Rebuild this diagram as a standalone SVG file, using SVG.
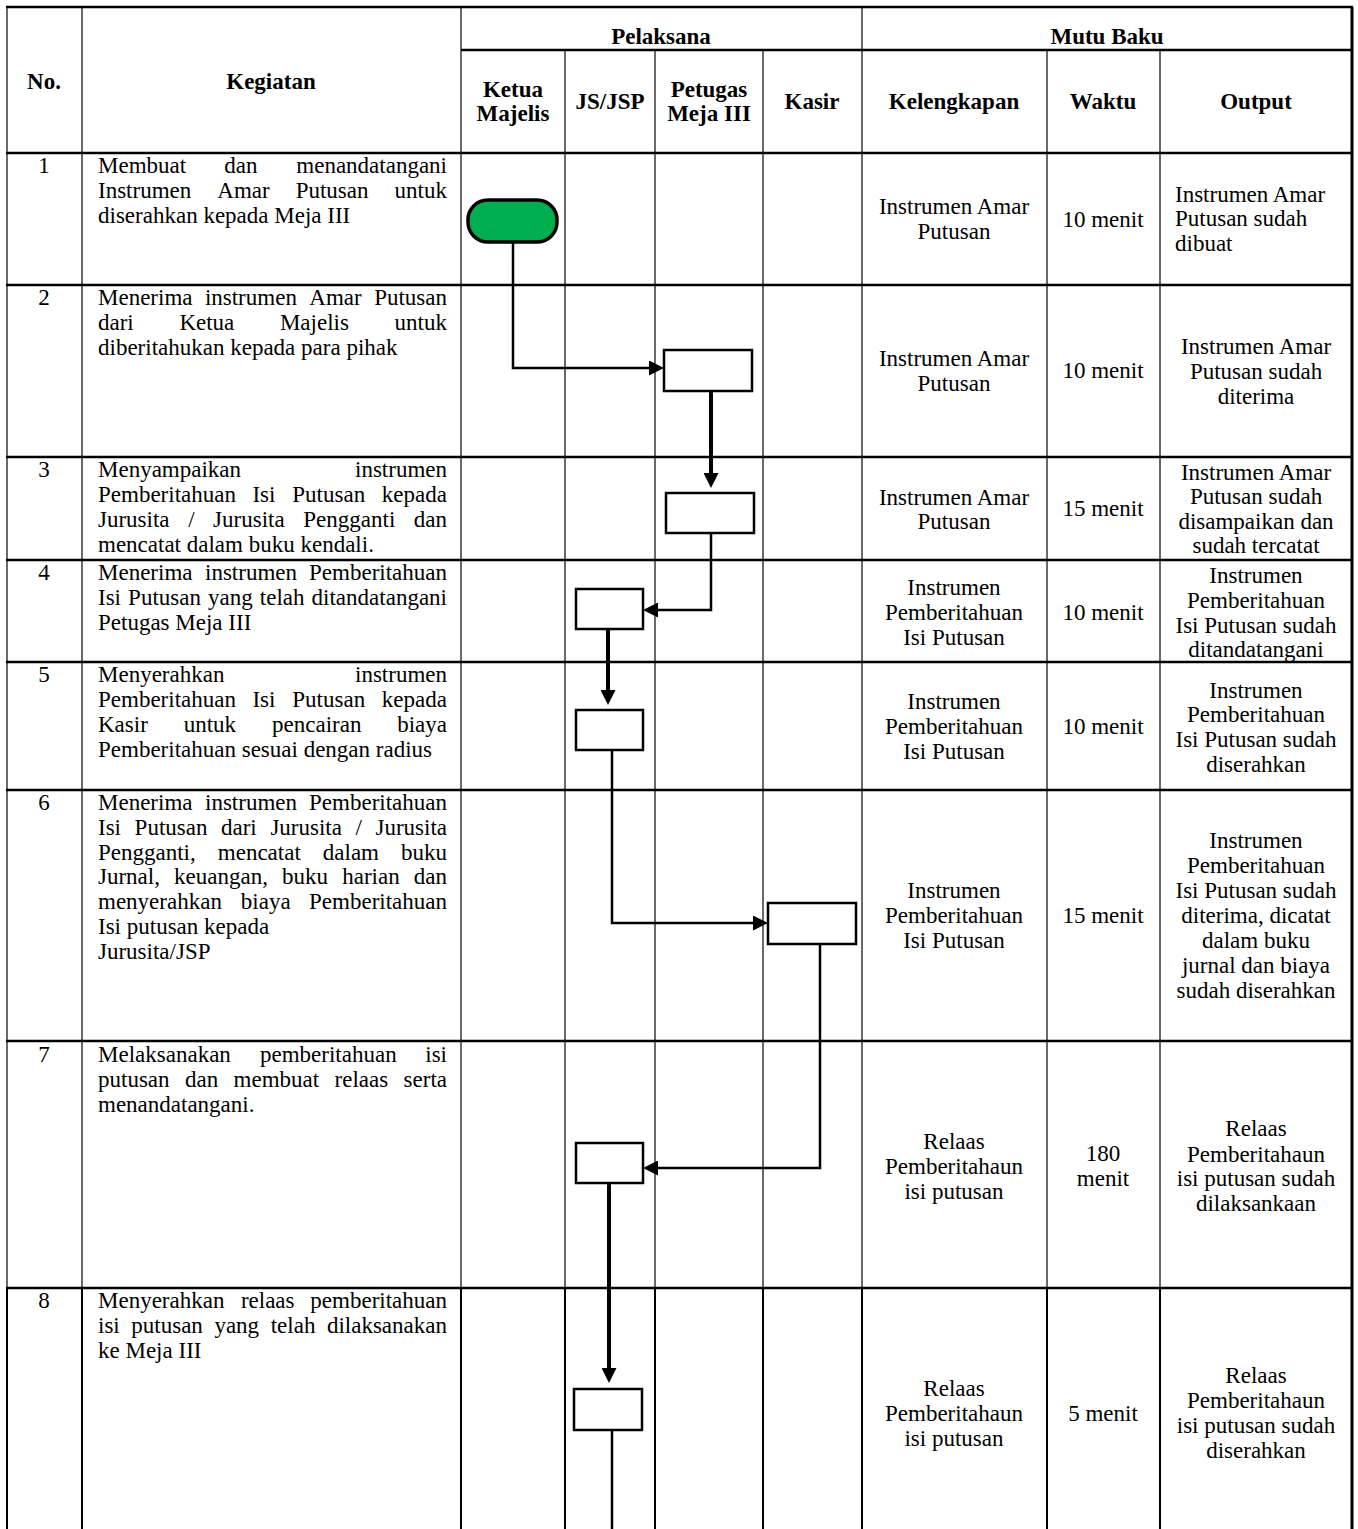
<svg xmlns="http://www.w3.org/2000/svg" width="1358" height="1529" viewBox="0 0 1358 1529">
<style>
text{font-family:"Liberation Serif","Times New Roman",serif;font-size:23px;fill:#000}
.b{font-weight:bold}
.m{text-anchor:middle}
.e{text-anchor:end}
.h{stroke:#000;stroke-width:2.5}
.v{stroke:#5a5a5a;stroke-width:1.8}
.vb{stroke:#000;stroke-width:2}
.box{fill:#fff;stroke:#000;stroke-width:2.5}
.c{fill:none;stroke:#000;stroke-width:2.5}
.ct{fill:none;stroke:#000;stroke-width:4}
</style>
<defs>
<marker id="ah" markerWidth="15" markerHeight="15" refX="5" refY="7.5" orient="auto" markerUnits="userSpaceOnUse">
<path d="M0,0 L15,7.5 L0,15 z" fill="#000"/>
</marker>
</defs>
<rect width="1358" height="1529" fill="#fff"/>
<g id="grid">
<line class="v" x1="7" y1="7" x2="7" y2="1529"/>
<line class="v" x1="82" y1="7" x2="82" y2="1529"/>
<line class="v" x1="461" y1="7" x2="461" y2="1529"/>
<line class="v" x1="565" y1="50" x2="565" y2="1529"/>
<line class="v" x1="655" y1="50" x2="655" y2="1529"/>
<line class="v" x1="763" y1="50" x2="763" y2="1529"/>
<line class="v" x1="862" y1="7" x2="862" y2="1529"/>
<line class="v" x1="1047" y1="50" x2="1047" y2="1529"/>
<line class="v" x1="1160" y1="50" x2="1160" y2="1529"/>
<line class="vb" x1="7" y1="1288" x2="7" y2="1529"/>
<line class="vb" x1="82" y1="1288" x2="82" y2="1529"/>
<line class="vb" x1="461" y1="1288" x2="461" y2="1529"/>
<line class="vb" x1="565" y1="1288" x2="565" y2="1529"/>
<line class="vb" x1="655" y1="1288" x2="655" y2="1529"/>
<line class="vb" x1="763" y1="1288" x2="763" y2="1529"/>
<line class="vb" x1="862" y1="1288" x2="862" y2="1529"/>
<line class="vb" x1="1047" y1="1288" x2="1047" y2="1529"/>
<line class="vb" x1="1160" y1="1288" x2="1160" y2="1529"/>
<line x1="1352" y1="7" x2="1352" y2="1529" stroke="#000" stroke-width="3"/>
<line class="h" x1="6" y1="7" x2="1353" y2="7"/>
<line class="h" x1="461" y1="50" x2="1353" y2="50"/>
<line class="h" x1="6" y1="153" x2="1353" y2="153"/>
<line class="h" x1="6" y1="285" x2="1353" y2="285"/>
<line class="h" x1="6" y1="457" x2="1353" y2="457"/>
<line class="h" x1="6" y1="560" x2="1353" y2="560"/>
<line class="h" x1="6" y1="662" x2="1353" y2="662"/>
<line class="h" x1="6" y1="790" x2="1353" y2="790"/>
<line class="h" x1="6" y1="1041" x2="1353" y2="1041"/>
<line class="h" x1="6" y1="1288" x2="1353" y2="1288"/>
</g>
<g id="header">
<text class="b m" x="44" y="89">No.</text>
<text class="b m" x="271" y="89">Kegiatan</text>
<text class="b m" x="661" y="44">Pelaksana</text>
<text class="b m" x="1107" y="44">Mutu Baku</text>
<text class="b m" x="513" y="97">Ketua</text>
<text class="b m" x="513" y="121">Majelis</text>
<text class="b m" x="610" y="109">JS/JSP</text>
<text class="b m" x="709" y="97">Petugas</text>
<text class="b m" x="709" y="121">Meja III</text>
<text class="b m" x="812" y="109">Kasir</text>
<text class="b m" x="954" y="109">Kelengkapan</text>
<text class="b m" x="1103" y="109">Waktu</text>
<text class="b m" x="1256" y="109">Output</text>
</g>
<g id="row1">
<text class="m" x="44" y="173">1</text>
<text x="98" y="173">Membuat</text><text x="224.3" y="173">dan</text><text class="e" x="447" y="173">menandatangani</text>
<text x="98" y="198">Instrumen</text><text x="217.3" y="198">Amar</text><text x="295.7" y="198">Putusan</text><text class="e" x="447" y="198">untuk</text>
<text x="98" y="223">diserahkan kepada Meja III</text>
<text class="m" x="954" y="214">Instrumen Amar</text>
<text class="m" x="954" y="239">Putusan</text>
<text class="m" x="1103" y="227">10 menit</text>
<text x="1175" y="202">Instrumen Amar</text>
<text x="1175" y="226">Putusan sudah</text>
<text x="1175" y="251">dibuat</text>
</g>
<g id="row2">
<text class="m" x="44" y="305">2</text>
<text x="98" y="305">Menerima</text><text x="204.9" y="305">instrumen</text><text x="309.3" y="305">Amar</text><text class="e" x="447" y="305">Putusan</text>
<text x="98" y="330">dari</text><text x="179.4" y="330">Ketua</text><text x="279.9" y="330">Majelis</text><text class="e" x="447" y="330">untuk</text>
<text x="98" y="355">diberitahukan kepada para pihak</text>
<text class="m" x="954" y="366">Instrumen Amar</text>
<text class="m" x="954" y="391">Putusan</text>
<text class="m" x="1103" y="378">10 menit</text>
<text class="m" x="1256" y="354">Instrumen Amar</text>
<text class="m" x="1256" y="379">Putusan sudah</text>
<text class="m" x="1256" y="404">diterima</text>
</g>
<g id="row3">
<text class="m" x="44" y="477">3</text>
<text x="98" y="477">Menyampaikan</text><text class="e" x="447" y="477">instrumen</text>
<text x="98" y="502">Pemberitahuan</text><text x="252.4" y="502">Isi</text><text x="292.3" y="502">Putusan</text><text class="e" x="447" y="502">kepada</text>
<text x="98" y="527">Jurusita</text><text x="188.2" y="527">/</text><text x="213.1" y="527">Jurusita</text><text x="303.3" y="527">Pengganti</text><text class="e" x="447" y="527">dan</text>
<text x="98" y="552">mencatat dalam buku kendali.</text>
<text class="m" x="954" y="505">Instrumen Amar</text>
<text class="m" x="954" y="529">Putusan</text>
<text class="m" x="1103" y="516">15 menit</text>
<text class="m" x="1256" y="480">Instrumen Amar</text>
<text class="m" x="1256" y="504">Putusan sudah</text>
<text class="m" x="1256" y="529">disampaikan dan</text>
<text class="m" x="1256" y="553">sudah tercatat</text>
</g>
<g id="row4">
<text class="m" x="44" y="580">4</text>
<text x="98" y="580">Menerima</text><text x="205" y="580">instrumen</text><text class="e" x="447" y="580">Pemberitahuan</text>
<text x="98" y="605">Isi</text><text x="128.1" y="605">Putusan</text><text x="208" y="605">yang</text><text x="259.8" y="605">telah</text><text class="e" x="447" y="605">ditandatangani</text>
<text x="98" y="630">Petugas Meja III</text>
<text class="m" x="954" y="595">Instrumen</text>
<text class="m" x="954" y="620">Pemberitahuan</text>
<text class="m" x="954" y="645">Isi Putusan</text>
<text class="m" x="1103" y="620">10 menit</text>
<text class="m" x="1256" y="583">Instrumen</text>
<text class="m" x="1256" y="608">Pemberitahuan</text>
<text class="m" x="1256" y="633">Isi Putusan sudah</text>
<text class="m" x="1256" y="657">ditandatangani</text>
</g>
<g id="row5">
<text class="m" x="44" y="682">5</text>
<text x="98" y="682">Menyerahkan</text><text class="e" x="447" y="682">instrumen</text>
<text x="98" y="707">Pemberitahuan</text><text x="252.4" y="707">Isi</text><text x="292.3" y="707">Putusan</text><text class="e" x="447" y="707">kepada</text>
<text x="98" y="732">Kasir</text><text x="183.7" y="732">untuk</text><text x="272" y="732">pencairan</text><text class="e" x="447" y="732">biaya</text>
<text x="98" y="757">Pemberitahuan sesuai dengan radius</text>
<text class="m" x="954" y="709">Instrumen</text>
<text class="m" x="954" y="734">Pemberitahuan</text>
<text class="m" x="954" y="759">Isi Putusan</text>
<text class="m" x="1103" y="734">10 menit</text>
<text class="m" x="1256" y="698">Instrumen</text>
<text class="m" x="1256" y="722">Pemberitahuan</text>
<text class="m" x="1256" y="747">Isi Putusan sudah</text>
<text class="m" x="1256" y="772">diserahkan</text>
</g>
<g id="row6">
<text class="m" x="44" y="810">6</text>
<text x="98" y="810">Menerima</text><text x="205" y="810">instrumen</text><text class="e" x="447" y="810">Pemberitahuan</text>
<text x="98" y="835">Isi</text><text x="134.6" y="835">Putusan</text><text x="221" y="835">dari</text><text x="270.4" y="835">Jurusita</text><text x="355.5" y="835">/</text><text class="e" x="447" y="835">Jurusita</text>
<text x="98" y="860">Pengganti,</text><text x="217.8" y="860">mencatat</text><text x="322.8" y="860">dalam</text><text class="e" x="447" y="860">buku</text>
<text x="98" y="884">Jurnal,</text><text x="174.1" y="884">keuangan,</text><text x="282.1" y="884">buku</text><text x="342.2" y="884">harian</text><text class="e" x="447" y="884">dan</text>
<text x="98" y="909">menyerahkan</text><text x="240.8" y="909">biaya</text><text class="e" x="447" y="909">Pemberitahuan</text>
<text x="98" y="934">Isi putusan kepada</text>
<text x="98" y="959">Jurusita/JSP</text>
<text class="m" x="954" y="898">Instrumen</text>
<text class="m" x="954" y="923">Pemberitahuan</text>
<text class="m" x="954" y="948">Isi Putusan</text>
<text class="m" x="1103" y="923">15 menit</text>
<text class="m" x="1256" y="848">Instrumen</text>
<text class="m" x="1256" y="873">Pemberitahuan</text>
<text class="m" x="1256" y="898">Isi Putusan sudah</text>
<text class="m" x="1256" y="923">diterima, dicatat</text>
<text class="m" x="1256" y="948">dalam buku</text>
<text class="m" x="1256" y="973">jurnal dan biaya</text>
<text class="m" x="1256" y="998">sudah diserahkan</text>
</g>
<g id="row7">
<text class="m" x="44" y="1062">7</text>
<text x="98" y="1062">Melaksanakan</text><text x="260" y="1062">pemberitahuan</text><text class="e" x="447" y="1062">isi</text>
<text x="98" y="1087">putusan</text><text x="185" y="1087">dan</text><text x="233.6" y="1087">membuat</text><text x="334.6" y="1087">relaas</text><text class="e" x="447" y="1087">serta</text>
<text x="98" y="1112">menandatangani.</text>
<text class="m" x="954" y="1149">Relaas</text>
<text class="m" x="954" y="1174">Pemberitahaun</text>
<text class="m" x="954" y="1199">isi putusan</text>
<text class="m" x="1103" y="1161">180</text>
<text class="m" x="1103" y="1186">menit</text>
<text class="m" x="1256" y="1136">Relaas</text>
<text class="m" x="1256" y="1162">Pemberitahaun</text>
<text class="m" x="1256" y="1186">isi putusan sudah</text>
<text class="m" x="1256" y="1211">dilaksankaan</text>
</g>
<g id="row8">
<text class="m" x="44" y="1308">8</text>
<text x="98" y="1308">Menyerahkan</text><text x="240.9" y="1308">relaas</text><text class="e" x="447" y="1308">pemberitahuan</text>
<text x="98" y="1333">isi</text><text x="131.3" y="1333">putusan</text><text x="214.4" y="1333">yang</text><text x="270.7" y="1333">telah</text><text class="e" x="447" y="1333">dilaksanakan</text>
<text x="98" y="1358">ke Meja III</text>
<text class="m" x="954" y="1396">Relaas</text>
<text class="m" x="954" y="1421">Pemberitahaun</text>
<text class="m" x="954" y="1446">isi putusan</text>
<text class="m" x="1103" y="1421">5 menit</text>
<text class="m" x="1256" y="1383">Relaas</text>
<text class="m" x="1256" y="1408">Pemberitahaun</text>
<text class="m" x="1256" y="1433">isi putusan sudah</text>
<text class="m" x="1256" y="1458">diserahkan</text>
</g>
<g id="connectors">
<path class="c" d="M513,243 V368 H654" marker-end="url(#ah)"/>
<path class="ct" d="M711,391 V478" marker-end="url(#ah)"/>
<path class="c" d="M711,533 V610 H653" marker-end="url(#ah)"/>
<path class="ct" d="M608,629 V695" marker-end="url(#ah)"/>
<path class="c" d="M612,750 V923 H758" marker-end="url(#ah)"/>
<path class="c" d="M820,944 V1168 H653" marker-end="url(#ah)"/>
<path class="ct" d="M609,1180 V1373" marker-end="url(#ah)"/>
<path class="c" d="M612,1430 V1529"/>
</g>
<g id="node-start"><rect x="468" y="200" width="89" height="42" rx="20" ry="20" fill="#00AD4F" stroke="#000" stroke-width="3.5"/></g>
<g id="node-2"><rect class="box" x="664" y="350" width="88" height="41"/></g>
<g id="node-3"><rect class="box" x="666" y="493" width="88" height="40"/></g>
<g id="node-4"><rect class="box" x="576" y="589" width="67" height="40"/></g>
<g id="node-5"><rect class="box" x="576" y="710" width="67" height="40"/></g>
<g id="node-6"><rect class="box" x="768" y="903" width="88" height="41"/></g>
<g id="node-7"><rect class="box" x="576" y="1143" width="67" height="40"/></g>
<g id="node-8"><rect class="box" x="574" y="1389" width="68" height="41"/></g>
</svg>
